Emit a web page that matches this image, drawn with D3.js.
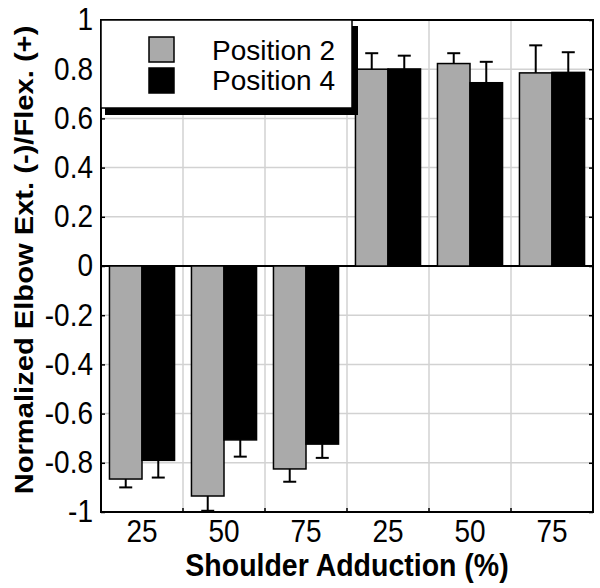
<!DOCTYPE html>
<html>
<head>
<meta charset="utf-8">
<script src="https://cdn.jsdelivr.net/npm/d3@7"></script>
<style>
  html, body { margin: 0; padding: 0; background: #fff; }
  svg { display: block; }
  text { font-family: "Liberation Sans", Arial, sans-serif; fill: #000; }
</style>
</head>
<body>
<script>
// ---- data ----
const categories = ["25", "50", "75", "25", "50", "75"];
const seriesNames = ["Position 2", "Position 4"];
const position2 = [-0.866, -0.935, -0.825, 0.800, 0.823, 0.785];
const position2Err = [0.034, 0.060, 0.052, 0.065, 0.042, 0.112];
const position4 = [-0.790, -0.707, -0.724, 0.801, 0.745, 0.787];
const position4Err = [0.070, 0.068, 0.056, 0.054, 0.085, 0.082];
const yTicks = [-1, -0.8, -0.6, -0.4, -0.2, 0, 0.2, 0.4, 0.6, 0.8, 1];
const yTickLabels = ["-1", "-0.8", "-0.6", "-0.4", "-0.2", "0", "0.2", "0.4", "0.6", "0.8", "1"];
const xTitle = "Shoulder Adduction (%)";
const yTitle = "Normalized Elbow Ext. (-)/Flex. (+)";

const seriesValues = [position2, position4];
const seriesErrors = [position2Err, position4Err];
const seriesFill = ["#aaaaaa", "#000000"];

const W = 600, H = 588;
const L = 101, R = 593, T = 20, B = 512;

const svg = d3.select("body").append("svg").attr("width", W).attr("height", H);

const x = d3.scaleBand().domain(d3.range(categories.length)).range([L, R]).padding(0);
const xs = d3.scaleBand().domain(d3.range(seriesNames.length)).range([0, x.bandwidth()])
  .paddingInner(0).paddingOuter(0.26);
const y = d3.scaleLinear().domain([-1, 1]).range([B, T]);

// gridlines
const grid = svg.append("g").attr("stroke", "#d2d2d2").attr("stroke-width", 1.5);
grid.selectAll("line.h").data(yTicks.filter(d => d !== -1 && d !== 1 && d !== 0)).join("line")
  .attr("x1", L).attr("x2", R).attr("y1", d => y(d)).attr("y2", d => y(d));
grid.selectAll("line.v").data(d3.range(1, categories.length)).join("line")
  .attr("x1", d => L + x.step() * d).attr("x2", d => L + x.step() * d)
  .attr("y1", T).attr("y2", B);

// zero line
svg.append("line").attr("x1", L).attr("x2", R).attr("y1", y(0)).attr("y2", y(0))
  .attr("stroke", "#000").attr("stroke-width", 2);

// bars
seriesNames.forEach((name, s) => {
  const g = svg.append("g");
  g.selectAll("rect").data(seriesValues[s]).join("rect")
    .attr("x", (d, i) => x(i) + xs(s))
    .attr("width", xs.bandwidth())
    .attr("y", d => Math.min(y(d), y(0)))
    .attr("height", d => Math.abs(y(d) - y(0)))
    .attr("fill", seriesFill[s])
    .attr("stroke", "#000").attr("stroke-width", 1.5);
  // error bars (outward only)
  const eg = svg.append("g").attr("stroke", "#000").attr("stroke-width", 2);
  seriesValues[s].forEach((v, i) => {
    const cx = x(i) + xs(s) + xs.bandwidth() / 2;
    const tip = v >= 0 ? v + seriesErrors[s][i] : v - seriesErrors[s][i];
    eg.append("line").attr("x1", cx).attr("x2", cx).attr("y1", y(v)).attr("y2", y(tip));
    eg.append("line").attr("x1", cx - 6.5).attr("x2", cx + 6.5).attr("y1", y(tip)).attr("y2", y(tip));
  });
});

// frame
svg.append("rect").attr("x", L).attr("y", T).attr("width", R - L).attr("height", B - T)
  .attr("fill", "none").attr("stroke", "#000").attr("stroke-width", 2);

// y axis (left) with inward ticks
const yAxis = svg.append("g").attr("transform", `translate(${L},0)`)
  .call(d3.axisLeft(y).tickValues(yTicks).tickFormat((d, i) => yTickLabels[i])
    .tickSizeInner(-4).tickSizeOuter(0).tickPadding(8));
yAxis.select(".domain").remove();
yAxis.selectAll("line").attr("stroke-width", 1.5);
yAxis.selectAll("text").attr("font-size", 28).attr("transform", "scale(1,1.1)")
  .attr("dy", "0.32em").attr("font-family", "Liberation Sans, Arial, sans-serif");

// right inward ticks
const yAxisR = svg.append("g").attr("transform", `translate(${R},0)`)
  .call(d3.axisRight(y).tickValues(yTicks).tickFormat("").tickSizeInner(-4).tickSizeOuter(0));
yAxisR.select(".domain").remove();
yAxisR.selectAll("line").attr("stroke-width", 1.5);

// x axis labels
const xAxis = svg.append("g").attr("transform", `translate(0,${B})`)
  .call(d3.axisBottom(x).tickFormat(i => categories[i]).tickSize(0).tickPadding(7));
xAxis.select(".domain").remove();
xAxis.selectAll("text").attr("font-size", 28).attr("transform", "scale(1,1.1)")
  .attr("font-family", "Liberation Sans, Arial, sans-serif");

// x boundary ticks (inward, bottom)
svg.append("g").attr("stroke", "#000").attr("stroke-width", 1.5)
  .selectAll("line").data(d3.range(1, categories.length)).join("line")
  .attr("x1", d => L + x.step() * d).attr("x2", d => L + x.step() * d)
  .attr("y1", B).attr("y2", B - 4);

// titles
svg.append("text")
  .attr("transform", `translate(${(L + R) / 2},576) scale(1,1.1)`)
  .attr("text-anchor", "middle").attr("font-size", 28.5).attr("font-weight", "bold")
  .text(xTitle);
svg.append("text")
  .attr("transform", `translate(33,260) rotate(-90) scale(1.1,1)`)
  .attr("text-anchor", "middle").attr("font-size", 26.5).attr("font-weight", "bold")
  .text(yTitle);

// legend
const lg = svg.append("g");
lg.append("rect").attr("x", L + 4).attr("y", T + 6).attr("width", 352 - L + 2).attr("height", 108 - T + 1)
  .attr("fill", "#000");
lg.append("rect").attr("x", L).attr("y", T).attr("width", 352 - L).attr("height", 108 - T)
  .attr("fill", "#fff").attr("stroke", "#000").attr("stroke-width", 1.5);
seriesNames.forEach((name, s) => {
  lg.append("rect").attr("x", 149).attr("y", 37 + s * 31).attr("width", 25).attr("height", 25)
    .attr("fill", seriesFill[s]).attr("stroke", "#000").attr("stroke-width", 1.5);
  lg.append("text").attr("x", 212).attr("y", 60 + s * 30).attr("font-size", 28).text(name);
});
</script>
</body>
</html>
